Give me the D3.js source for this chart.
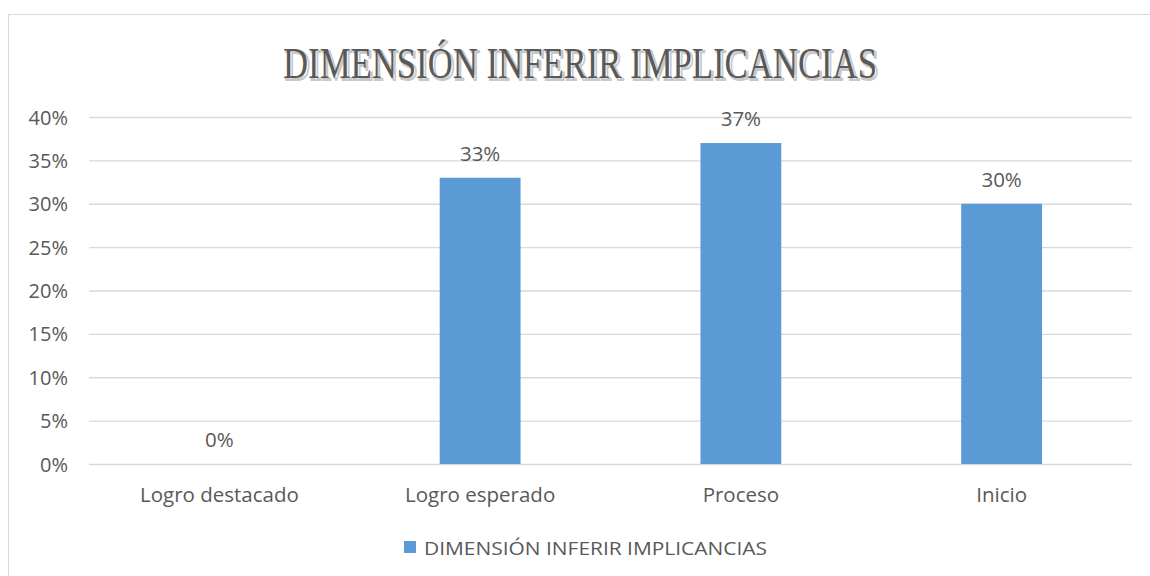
<!DOCTYPE html>
<html>
<head>
<meta charset="utf-8">
<script src="https://cdn.jsdelivr.net/npm/d3@7"></script>
<style>
  html, body { margin: 0; padding: 0; background: #fff; }
  svg { display: block; }
</style>
</head>
<body>
<svg id="chart" width="1150" height="576"></svg>
<script>
const titleText = "DIMENSIÓN INFERIR IMPLICANCIAS";
const seriesName = "DIMENSIÓN INFERIR IMPLICANCIAS";
const categories = ["Logro destacado", "Logro esperado", "Proceso", "Inicio"];
const values = [0, 0.33, 0.37, 0.30];
const yTicks = [0, 0.05, 0.10, 0.15, 0.20, 0.25, 0.30, 0.35, 0.40];

const W = 1150, H = 576;
const svg = d3.select("#chart");
const font = "'Open Sans', 'Noto Sans', sans-serif";
const textColor = "#595959";
const gridColor = "#d9d9d9";
const barColor = "#5b9bd5";

// chart border
svg.append("rect")
  .attr("x", 8.5).attr("y", 14.5)
  .attr("width", W + 20).attr("height", H + 20)
  .attr("fill", "#fff").attr("stroke", "#d9d9d9").attr("stroke-width", 1);

const plot = { left: 89, right: 1132, top: 117, bottom: 464 };

const x = d3.scaleBand().domain(categories).range([plot.left, plot.right]).paddingInner(0.69).paddingOuter(0.345);
const y = d3.scaleLinear().domain([0, 0.40]).range([plot.bottom, plot.top]);

// gridlines
svg.append("g")
  .attr("transform", `translate(${plot.left},0)`)
  .call(d3.axisLeft(y).tickValues(yTicks).tickSize(-(plot.right - plot.left)).tickFormat(""))
  .call(g => g.select(".domain").remove())
  .call(g => g.selectAll(".tick line").attr("stroke", gridColor).attr("stroke-width", 1.3));

// y tick labels
svg.append("g")
  .attr("transform", `translate(68,0)`)
  .call(d3.axisLeft(y).tickValues(yTicks).tickSize(0).tickPadding(0).tickFormat(d3.format(".0%")))
  .call(g => g.select(".domain").remove())
  .call(g => g.selectAll("text")
    .attr("fill", textColor).attr("font-family", font).attr("font-size", 20)
    .attr("text-anchor", "end").attr("dy", "0.35em"));

// x axis labels
svg.append("g")
  .attr("transform", `translate(0,${plot.bottom})`)
  .call(d3.axisBottom(x).tickSize(0).tickPadding(0))
  .call(g => g.select(".domain").remove())
  .call(g => g.selectAll("text")
    .attr("fill", textColor).attr("font-family", font).attr("font-size", 20.5)
    .attr("dy", null).attr("y", 38));

// bars
svg.append("g").selectAll("rect")
  .data(values)
  .join("rect")
  .attr("x", (d, i) => x(categories[i]))
  .attr("width", x.bandwidth())
  .attr("y", d => y(d))
  .attr("height", d => y(0) - y(d))
  .attr("fill", barColor);

// data labels
svg.append("g").selectAll("text")
  .data(values)
  .join("text")
  .attr("x", (d, i) => x(categories[i]) + x.bandwidth() / 2)
  .attr("y", d => y(d) - 17)
  .attr("text-anchor", "middle")
  .attr("fill", textColor).attr("font-family", font).attr("font-size", 20.5)
  .text(d => d3.format(".0%")(d));

// title with engraved look
const tg = svg.append("g");
tg.append("text")
  .attr("x", 582).attr("y", 80)
  .attr("text-anchor", "middle")
  .attr("font-family", "'Liberation Serif', 'DejaVu Serif', serif")
  .attr("font-size", 44)
  .attr("textLength", 594).attr("lengthAdjust", "spacingAndGlyphs")
  .attr("fill", "none").attr("stroke", "#c8c8c8").attr("stroke-width", 2)
  .text(titleText);
tg.append("text")
  .attr("x", 580).attr("y", 78)
  .attr("text-anchor", "middle")
  .attr("font-family", "'Liberation Serif', 'DejaVu Serif', serif")
  .attr("font-size", 44)
  .attr("textLength", 594).attr("lengthAdjust", "spacingAndGlyphs")
  .attr("fill", textColor)
  .text(titleText);

// legend
const lg = svg.append("g");
lg.append("rect").attr("x", 404).attr("y", 541).attr("width", 12).attr("height", 12).attr("fill", barColor);
lg.append("text")
  .attr("x", 424).attr("y", 555)
  .attr("fill", textColor).attr("font-family", font).attr("font-size", 19)
  .attr("textLength", 343).attr("lengthAdjust", "spacingAndGlyphs")
  .text(seriesName);
</script>
</body>
</html>
